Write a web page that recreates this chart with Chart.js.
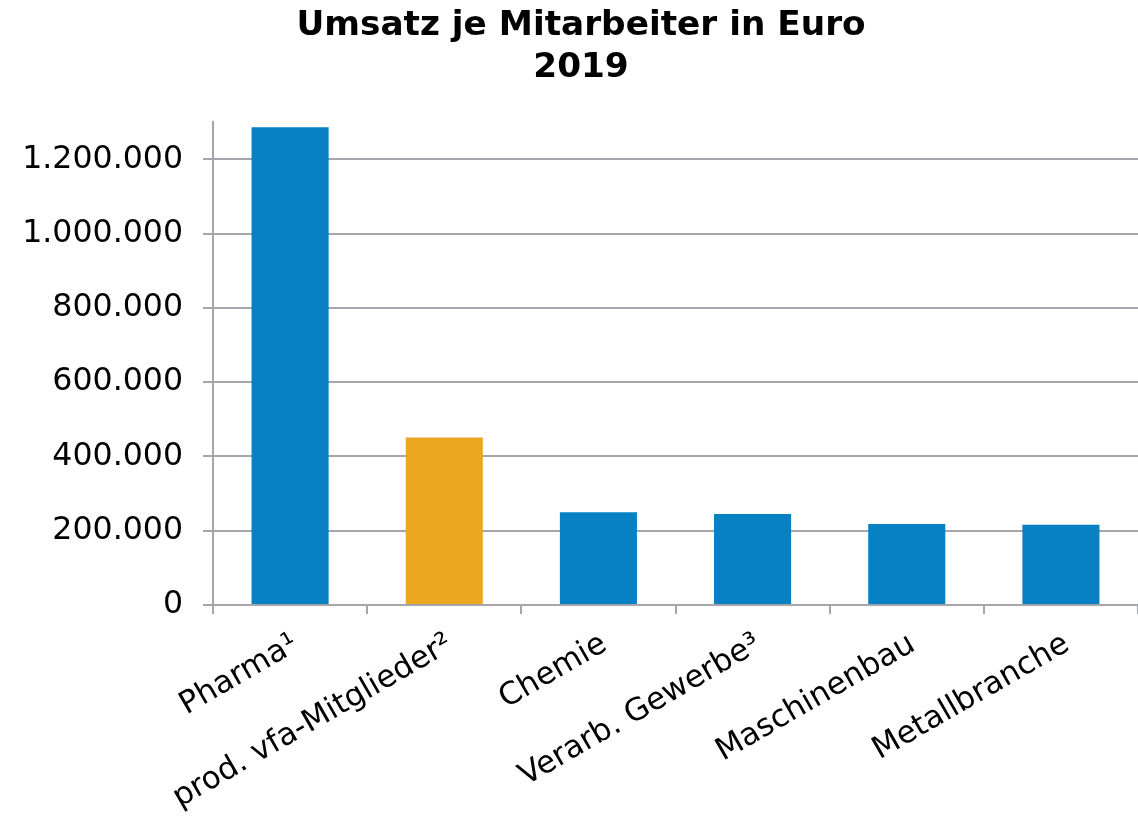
<!DOCTYPE html>
<html><head><meta charset="utf-8">
<script src="https://cdn.jsdelivr.net/npm/chart.js@4.4.0/dist/chart.umd.min.js"></script>
<style>html,body{margin:0;padding:0;background:#fff}#wrap{width:1138px;height:822px}</style>
</head><body><div id="wrap"><canvas id="c" width="1138" height="822"></canvas></div>
<script>
const categories = ['Pharma¹', 'prod. vfa-Mitglieder²', 'Chemie', 'Verarb. Gewerbe³', 'Maschinenbau', 'Metallbranche'];
const values = [1287000, 451000, 250000, 245000, 218000, 216000];
const barColors = ['#0780c4', '#eca720', '#0780c4', '#0780c4', '#0780c4', '#0780c4'];
const titleLines = ['Umsatz je Mitarbeiter in Euro', '2019'];
const yTickValues = [0, 200000, 400000, 600000, 800000, 1000000, 1200000];
const yMax = 1300000;

const gridCol = '#a5a5ac';
const fam = "'DejaVu Sans', Verdana, sans-serif";
new Chart(document.getElementById('c'), {
  type: 'bar',
  data: { labels: categories, datasets: [{ data: values, backgroundColor: barColors, barPercentage: 0.5, categoryPercentage: 1.0 }] },
  options: {
    responsive: false, animation: false,
    layout: { padding: { left: 24, right: 0, top: 0, bottom: 0 } },
    plugins: {
      legend: { display: false }, tooltip: { enabled: false },
      title: { display: true, text: titleLines, color: '#000', font: { family: fam, size: 34.3, weight: 'bold', lineHeight: 1.2 }, padding: { top: 6, bottom: 34 } }
    },
    scales: {
      x: {
        grid: { display: true, drawOnChartArea: false, drawTicks: true, tickLength: 9, color: gridCol, lineWidth: 2, offset: true },
        border: { display: true, color: gridCol, width: 2 },
        ticks: { color: '#000', font: { family: fam, size: 31 }, minRotation: 30, maxRotation: 30, padding: 12, labelOffset: 6, autoSkip: false },
        afterFit: s => { s.height = 217; }
      },
      y: {
        min: 0, max: yMax,
        grid: { color: gridCol, lineWidth: 2, tickLength: 10, drawTicks: true },
        border: { display: true, color: gridCol, width: 2 },
        ticks: { color: '#000', font: { family: fam, size: 31.6 }, padding: 20,
          callback: v => v.toLocaleString('de-DE') },
        afterBuildTicks: s => { s.ticks = yTickValues.map(v => ({ value: v })); },
        afterFit: s => { s.width = 189; }
      }
    }
  }
});
</script></body></html>
